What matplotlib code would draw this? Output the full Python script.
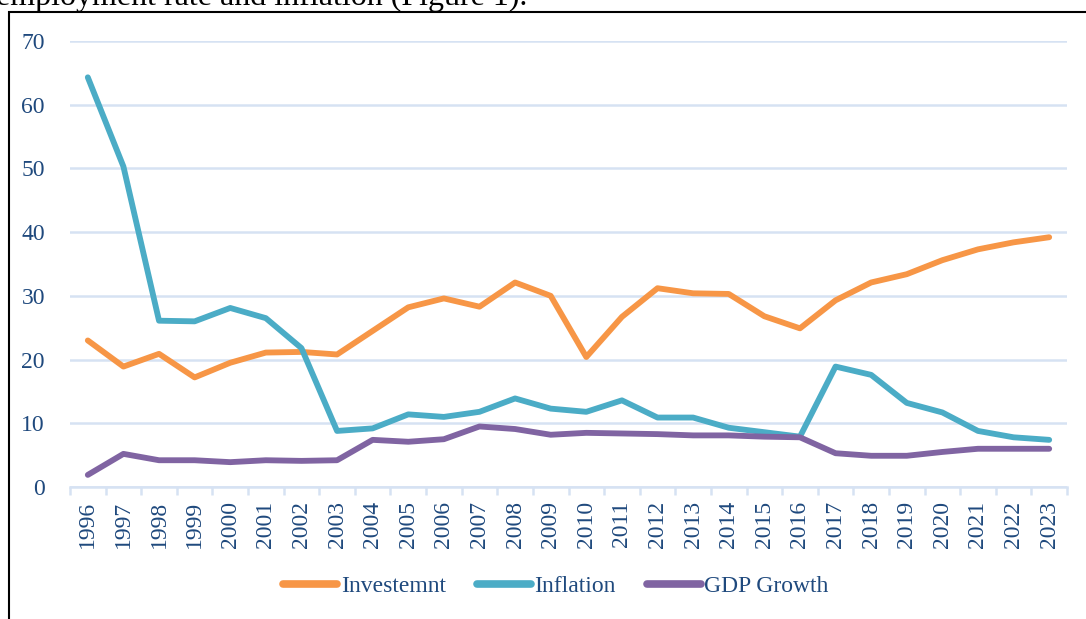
import numpy as np
import matplotlib
matplotlib.use("Agg")
import matplotlib.pyplot as plt
from matplotlib.patches import Rectangle

years = [str(y) for y in range(1996, 2024)]

investment = [23.0, 18.9, 20.9, 17.2, 19.5, 21.1, 21.2, 20.8, 24.5, 28.2,
              29.6, 28.3, 32.1, 30.0, 20.4, 26.7, 31.2, 30.4, 30.3, 26.8,
              24.9, 29.3, 32.1, 33.4, 35.6, 37.3, 38.4, 39.2]
inflation = [64.3, 50.3, 26.1, 26.0, 28.1, 26.5, 21.8, 8.8, 9.2, 11.4,
             11.0, 11.8, 13.9, 12.3, 11.8, 13.6, 10.9, 10.9, 9.3, 8.6,
             7.9, 18.9, 17.6, 13.2, 11.7, 8.8, 7.8, 7.4]
gdp_growth = [1.9, 5.2, 4.2, 4.2, 3.9, 4.2, 4.1, 4.2, 7.4, 7.1,
              7.5, 9.5, 9.1, 8.2, 8.5, 8.4, 8.3, 8.1, 8.1, 7.9,
              7.8, 5.3, 4.9, 4.9, 5.5, 6.0, 6.0, 6.0]

series_names = ["Investemnt", "Inflation", "GDP Growth"]
colors = ["#F79646", "#4BACC6", "#8064A2"]

text_color = "#1F497D"
grid_color = "#D6E2F3"
serif = ["Liberation Serif", "DejaVu Serif"]

plt.rcParams["font.family"] = serif

W, H = 1086, 619
fig = plt.figure(figsize=(W / 100, H / 100), dpi=100)

# cropped caption line from the surrounding document (cut off at the top, as in the source)
fig.text(-4 / W, 1 - 5 / H, "employment rate and inflation (Figure 1).",
         fontsize=23, color="black", va="baseline", ha="left")

# frame around the chart
fig.patches.append(Rectangle((9 / W, -0.1), 1.2, 1 - 12 / H + 0.1,
                             transform=fig.transFigure, fill=False,
                             edgecolor="black", linewidth=1.5))

ax = fig.add_axes([70 / W, 1 - 487 / H, 997 / W, 446 / H])

x = np.arange(len(years))
for vals, name, c in zip([investment, inflation, gdp_growth], series_names, colors):
    ax.plot(x, vals, color=c, linewidth=4.2, label=name,
            solid_capstyle="round", solid_joinstyle="round", zorder=3)

ax.set_xlim(-0.5, len(years) - 0.5)
ax.set_ylim(0, 70)
ax.set_yticks(range(0, 71, 10))
ax.yaxis.grid(True, color=grid_color, linewidth=1.8, zorder=0)
ax.set_axisbelow(True)

for s in ["top", "right", "left"]:
    ax.spines[s].set_visible(False)
ax.spines["bottom"].set_color(grid_color)
ax.spines["bottom"].set_linewidth(1.8)

ax.set_xticks(x)
ax.set_xticklabels(years, rotation=90)
ax.set_xticks(np.arange(-0.5, len(years), 1.0), minor=True)
ax.tick_params(axis="x", which="major", length=0, pad=10, labelsize=17,
               labelcolor=text_color)
ax.tick_params(axis="x", which="minor", length=6, width=1.8, color=grid_color)
ax.tick_params(axis="y", length=0, pad=18, labelsize=17, labelcolor=text_color)

leg = fig.legend(loc="center", bbox_to_anchor=(556 / W, 1 - 586 / H), ncol=3,
                 frameon=False, fontsize=17, handlelength=2.3,
                 handletextpad=0.15, columnspacing=1.3)
for t in leg.get_texts():
    t.set_color(text_color)
for h in leg.get_lines():
    h.set_linewidth(5.5)
    h.set_solid_capstyle("round")

fig.savefig("out.png", dpi=100)
